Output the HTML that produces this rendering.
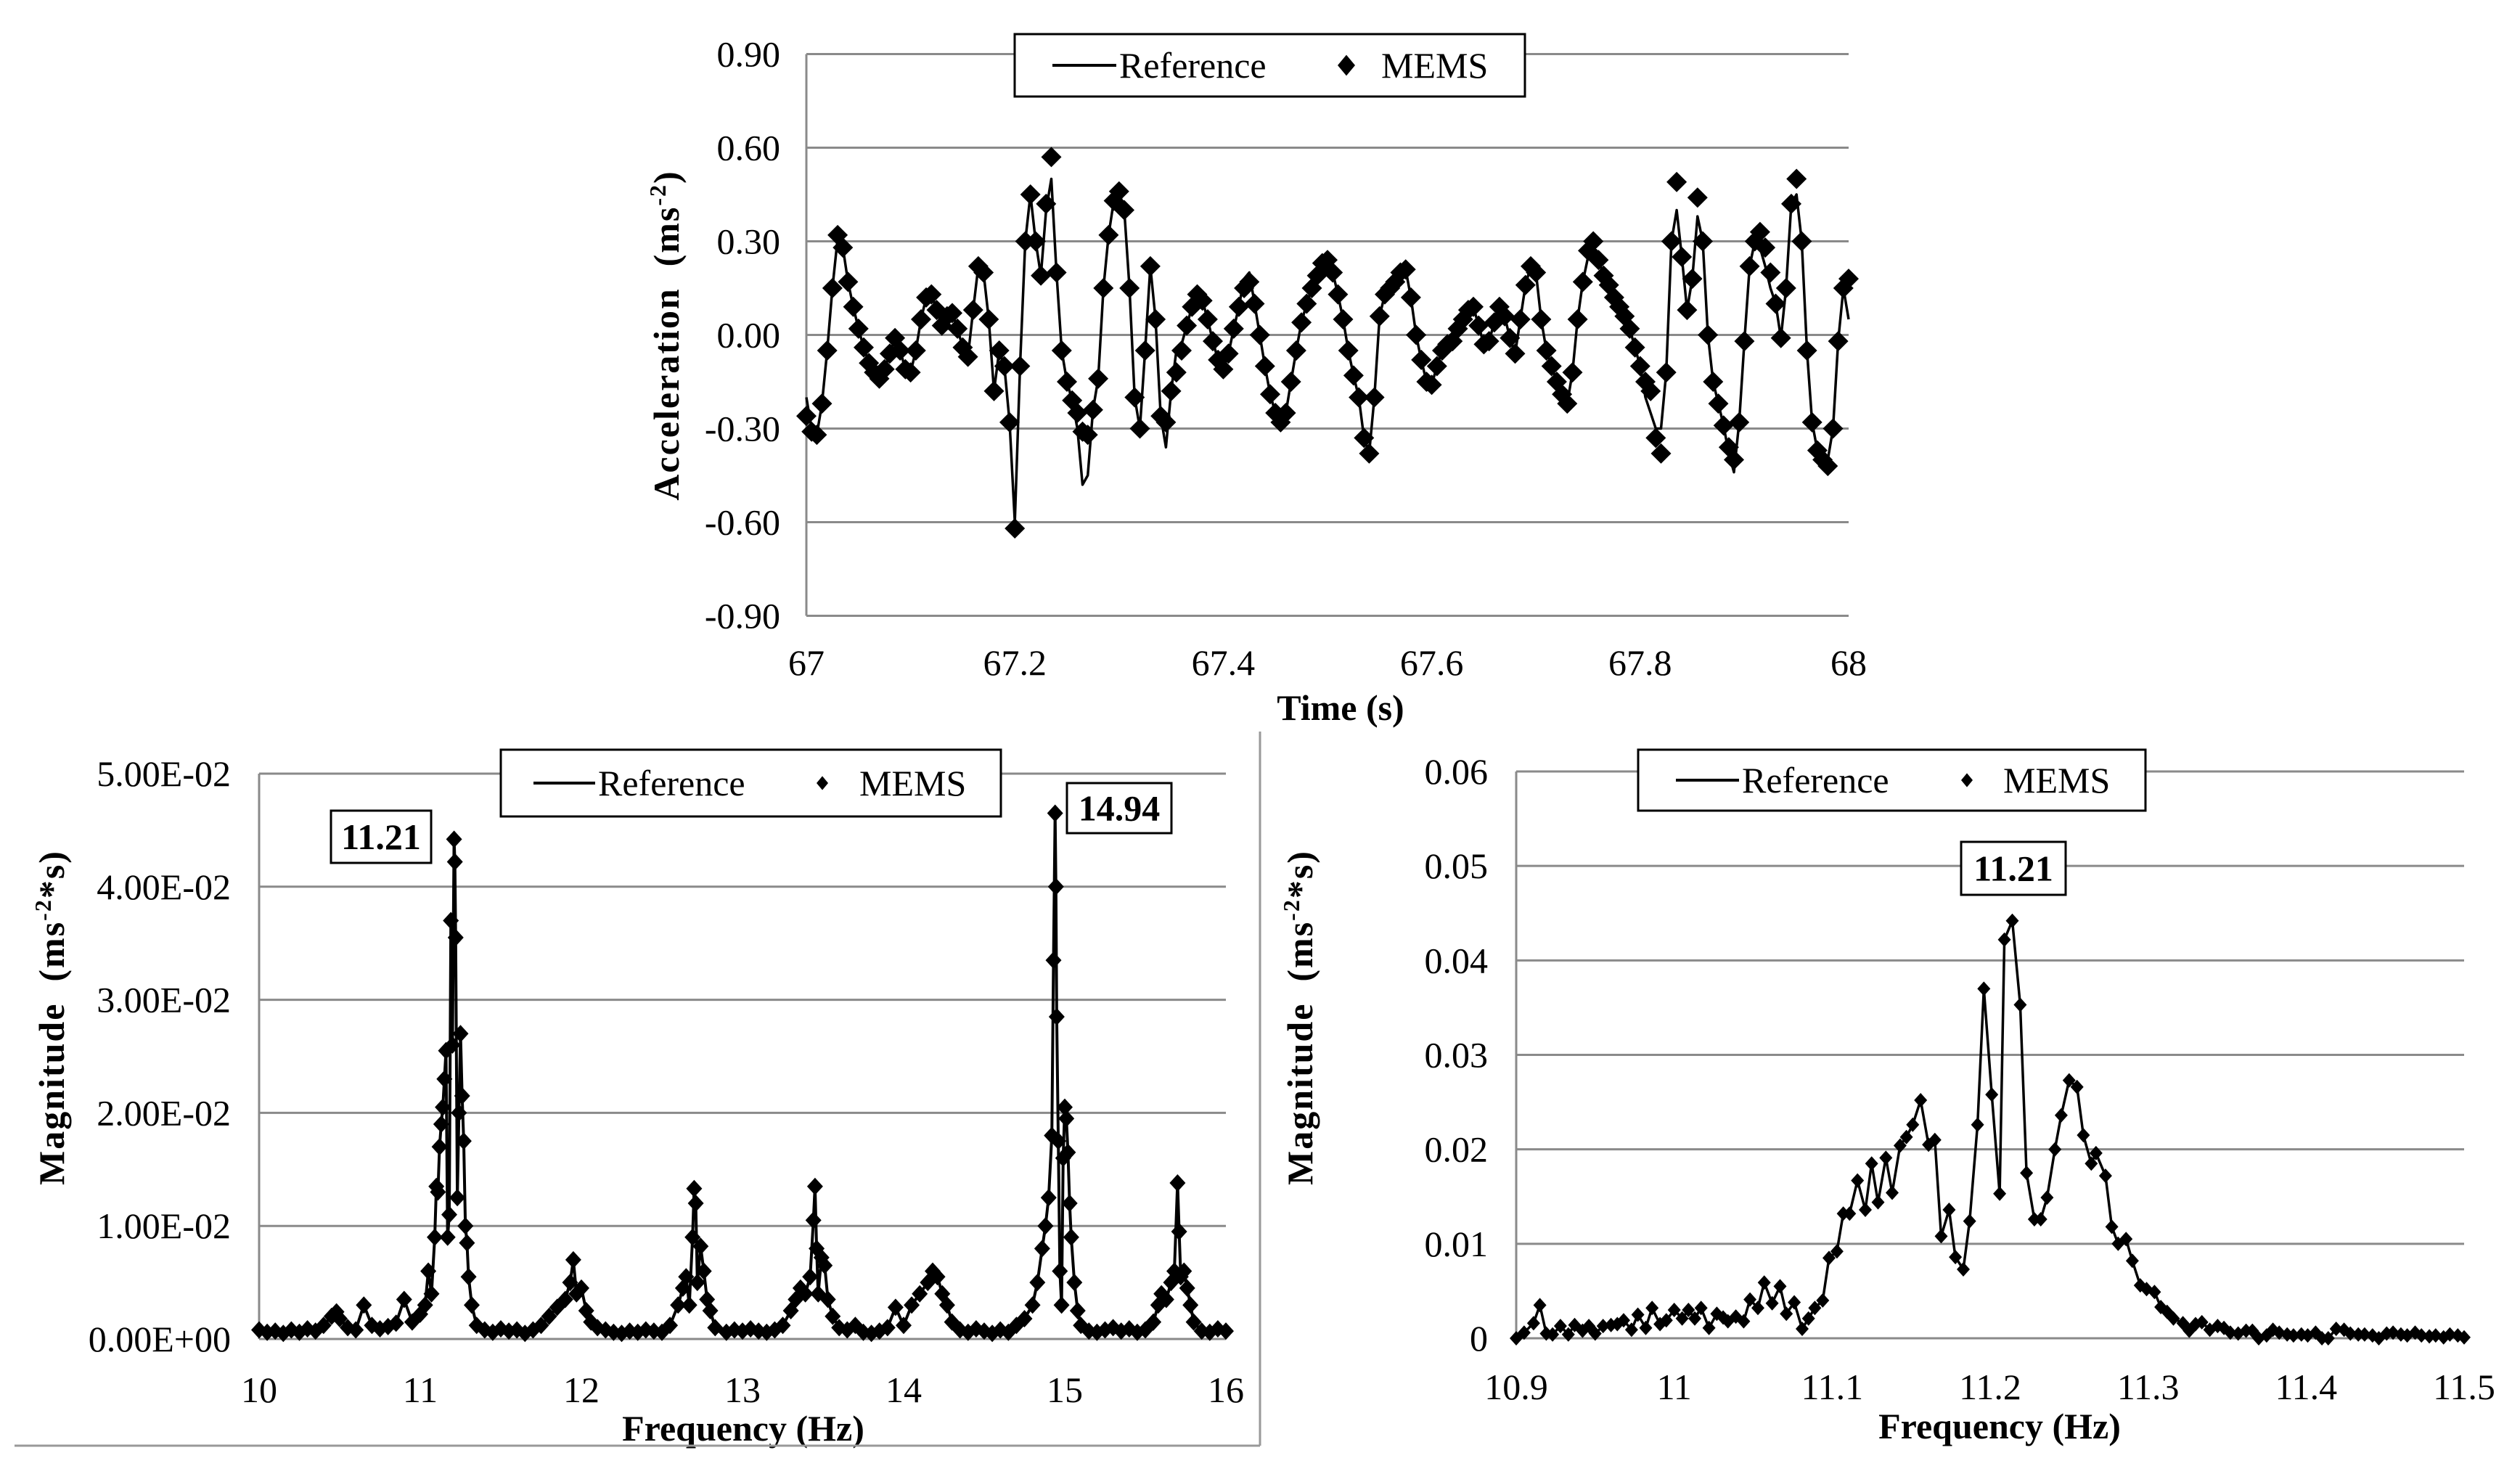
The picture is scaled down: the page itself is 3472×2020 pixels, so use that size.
<!DOCTYPE html>
<html><head><meta charset="utf-8">
<style>
html,body{margin:0;padding:0;background:#fff;}
svg{display:block;font-family:"Liberation Serif",serif;}
</style></head>
<body>
<svg id="fig" width="3472" height="2020" viewBox="0 0 3472 2020" xmlns="http://www.w3.org/2000/svg">
<rect width="3472" height="2020" fill="#fff"/>
<g id="top"></g>
<g id="bl"></g>
<g id="br"></g>
<line x1="20" y1="1992" x2="1736" y2="1992" stroke="#999" stroke-width="3"/>
<line x1="1736" y1="1008" x2="1736" y2="1992" stroke="#999" stroke-width="3"/>
</svg>
<script>
// ---------- Top chart data ----------
const topStart = 67.0;
const topStep = 0.005;
const memsAccel = [-0.26,-0.31,-0.32,-0.22,-0.05,0.15,0.32,0.28,0.17,0.09,0.02,-0.04,-0.09,-0.12,-0.14,-0.11,-0.06,-0.01,-0.05,-0.11,
-0.12,-0.05,0.05,0.12,0.13,0.08,0.03,0.06,0.07,0.02,-0.04,-0.07,0.08,0.22,0.20,0.05,-0.18,-0.05,-0.10,-0.28,
-0.62,-0.10,0.30,0.45,0.30,0.19,0.42,0.57,0.20,-0.05,-0.15,-0.21,-0.25,-0.31,-0.32,-0.24,-0.14,0.15,0.32,0.43,
0.46,0.40,0.15,-0.20,-0.30,-0.05,0.22,0.05,-0.26,-0.28,-0.18,-0.12,-0.05,0.03,0.09,0.13,0.11,0.05,-0.02,-0.08,
-0.11,-0.06,0.02,0.09,0.15,0.17,0.10,0.00,-0.10,-0.19,-0.25,-0.28,-0.25,-0.15,-0.05,0.04,0.10,0.15,0.19,0.23,
0.24,0.20,0.13,0.05,-0.05,-0.13,-0.20,-0.33,-0.38,-0.20,0.06,0.13,0.15,0.17,0.20,0.21,0.12,0.00,-0.08,-0.15,
-0.16,-0.10,-0.05,-0.03,-0.02,0.02,0.05,0.08,0.09,0.03,-0.03,-0.02,0.04,0.09,0.06,-0.01,-0.06,0.05,0.16,0.22,
0.20,0.05,-0.05,-0.10,-0.15,-0.19,-0.22,-0.12,0.05,0.17,0.27,0.30,0.24,0.19,0.16,0.12,0.09,0.06,0.02,-0.04,
-0.10,-0.15,-0.18,-0.33,-0.38,-0.12,0.30,0.49,0.25,0.08,0.18,0.44,0.30,0.00,-0.15,-0.22,-0.29,-0.36,-0.40,-0.28,
-0.02,0.22,0.30,0.33,0.28,0.20,0.10,-0.01,0.15,0.42,0.50,0.30,-0.05,-0.28,-0.37,-0.40,-0.42,-0.30,-0.02,0.15,0.18];
const refAccel = [-0.20,-0.30,-0.32,-0.22,-0.05,0.15,0.31,0.28,0.17,0.09,0.02,-0.04,-0.09,-0.12,-0.14,-0.11,-0.06,-0.01,-0.05,-0.11,
-0.12,-0.05,0.05,0.12,0.13,0.08,0.03,0.06,0.07,0.02,-0.04,-0.07,0.08,0.22,0.20,0.05,-0.18,-0.05,-0.10,-0.28,
-0.60,-0.10,0.30,0.45,0.30,0.19,0.40,0.50,0.20,-0.05,-0.15,-0.21,-0.30,-0.48,-0.45,-0.24,-0.14,0.15,0.32,0.43,
0.46,0.40,0.15,-0.20,-0.30,-0.05,0.22,0.05,-0.26,-0.36,-0.18,-0.05,-0.03,0.03,0.09,0.13,0.11,0.05,-0.02,-0.08,
-0.11,-0.06,0.02,0.09,0.18,0.20,0.10,0.00,-0.10,-0.19,-0.25,-0.28,-0.25,-0.15,-0.05,0.04,0.10,0.15,0.19,0.23,
0.24,0.20,0.13,0.05,-0.05,-0.13,-0.20,-0.33,-0.38,-0.20,0.06,0.13,0.15,0.17,0.20,0.21,0.12,0.00,-0.08,-0.15,
-0.16,-0.10,-0.05,-0.03,-0.02,0.02,0.05,0.08,0.09,0.03,-0.03,-0.02,0.04,0.11,0.06,-0.01,-0.06,0.05,0.16,0.22,
0.20,0.05,-0.05,-0.10,-0.15,-0.19,-0.22,-0.12,0.05,0.17,0.25,0.28,0.24,0.19,0.16,0.12,0.09,0.06,0.02,-0.04,
-0.10,-0.20,-0.25,-0.30,-0.30,-0.12,0.30,0.40,0.25,0.08,0.18,0.38,0.30,0.00,-0.15,-0.22,-0.29,-0.38,-0.44,-0.28,
-0.02,0.22,0.30,0.28,0.22,0.15,0.10,-0.01,0.15,0.42,0.45,0.30,-0.05,-0.28,-0.37,-0.40,-0.40,-0.30,-0.02,0.15,0.05];
const topYTicks = [0.9,0.6,0.3,0,-0.3,-0.6,-0.9];
const topYLabels = ["0.90","0.60","0.30","0.00","-0.30","-0.60","-0.90"];
const topXTicks = [67,67.2,67.4,67.6,67.8,68];
const topXLabels = ["67","67.2","67.4","67.6","67.8","68"];

// ---------- Bottom-left data ----------
const blFreq = [10.00,10.05,10.10,10.15,10.20,10.25,10.30,10.35,10.40,10.45,10.48,10.50,10.55,10.60,10.65,10.70,10.75,10.80,10.85,10.90,10.95,11.00,11.03,11.05,11.07,11.09,11.10,11.11,11.12,11.13,11.14,11.15,11.16,11.17,11.18,11.19,11.20,11.21,11.215,11.22,11.23,11.24,11.25,11.26,11.27,11.28,11.29,11.30,11.32,11.35,11.40,11.45,11.50,11.55,11.60,11.65,11.70,11.75,11.80,11.85,11.90,11.93,11.95,11.97,12.00,12.03,12.06,12.10,12.15,12.20,12.25,12.30,12.35,12.40,12.45,12.50,12.55,12.60,12.63,12.65,12.67,12.69,12.70,12.71,12.72,12.74,12.76,12.78,12.80,12.83,12.90,12.95,13.00,13.05,13.10,13.15,13.20,13.25,13.30,13.33,13.36,13.39,13.42,13.44,13.45,13.46,13.47,13.49,13.51,13.53,13.56,13.60,13.65,13.70,13.75,13.80,13.85,13.90,13.95,14.00,14.05,14.10,14.15,14.18,14.21,14.24,14.27,14.30,14.35,14.40,14.45,14.50,14.55,14.60,14.65,14.70,14.75,14.80,14.83,14.86,14.88,14.90,14.92,14.93,14.94,14.945,14.95,14.96,14.97,14.98,14.99,15.00,15.01,15.02,15.03,15.04,15.06,15.08,15.10,15.15,15.20,15.25,15.30,15.35,15.40,15.45,15.50,15.55,15.58,15.60,15.63,15.66,15.68,15.70,15.71,15.72,15.74,15.76,15.78,15.80,15.85,15.90,15.95,16.00];
const blMag = [.0008,.0006,.0007,.0005,.0008,.0006,.0009,.0007,.0012,.0020,.0024,.0018,.0010,.0008,.0030,.0012,.0009,.0011,.0014,.0035,.0015,.0022,.0030,.0060,.0040,.0090,.0135,.0130,.0170,.0190,.0205,.0230,.0255,.0090,.0110,.0370,.0260,.0442,.0422,.0355,.0125,.0200,.0270,.0215,.0175,.0100,.0085,.0055,.0030,.0012,.0008,.0006,.0009,.0007,.0008,.0005,.0008,.0012,.0020,.0028,.0035,.0050,.0070,.0040,.0045,.0025,.0015,.0010,.0008,.0006,.0005,.0007,.0006,.0008,.0007,.0006,.0012,.0030,.0045,.0055,.0030,.0090,.0133,.0120,.0050,.0082,.0060,.0035,.0025,.0010,.0006,.0008,.0007,.0009,.0007,.0006,.0008,.0012,.0025,.0035,.0045,.0040,.0055,.0105,.0135,.0080,.0040,.0072,.0065,.0035,.0020,.0010,.0008,.0012,.0006,.0005,.0007,.0010,.0028,.0012,.0030,.0040,.0050,.0060,.0055,.0040,.0030,.0015,.0008,.0006,.0009,.0007,.0005,.0008,.0006,.0012,.0018,.0030,.0050,.0080,.0100,.0125,.0180,.0335,.0465,.0400,.0285,.0175,.0060,.0030,.0160,.0205,.0195,.0165,.0120,.0090,.0050,.0025,.0012,.0007,.0006,.0008,.0010,.0007,.0009,.0006,.0008,.0015,.0030,.0040,.0035,.0050,.0060,.0138,.0095,.0055,.0060,.0045,.0030,.0015,.0007,.0006,.0009,.0007];
const blYTicks = [0,0.01,0.02,0.03,0.04,0.05];
const blYLabels = ["0.00E+00","1.00E-02","2.00E-02","3.00E-02","4.00E-02","5.00E-02"];
const blXTicks = [10,11,12,13,14,15,16];
const blXLabels = ["10","11","12","13","14","15","16"];

// ---------- Bottom-right data ----------
const brFreq = [10.900,10.905,10.911,10.915,10.919,10.923,10.928,10.933,10.937,10.942,10.946,10.950,10.955,10.960,10.964,10.968,10.973,10.977,10.982,10.986,10.991,10.995,11.000,11.005,11.009,11.013,11.017,11.022,11.027,11.031,11.034,11.039,11.044,11.048,11.053,11.057,11.062,11.067,11.071,11.076,11.081,11.085,11.089,11.094,11.098,11.103,11.107,11.111,11.116,11.121,11.125,11.129,11.134,11.138,11.143,11.147,11.151,11.156,11.161,11.165,11.169,11.174,11.178,11.183,11.187,11.192,11.196,11.201,11.206,11.209,11.214,11.219,11.223,11.228,11.232,11.236,11.241,11.245,11.250,11.255,11.259,11.264,11.267,11.273,11.277,11.281,11.286,11.290,11.295,11.299,11.304,11.308,11.312,11.316,11.322,11.326,11.330,11.334,11.339,11.344,11.348,11.352,11.357,11.362,11.366,11.370,11.375,11.379,11.383,11.388,11.392,11.397,11.401,11.406,11.410,11.414,11.419,11.424,11.428,11.433,11.437,11.442,11.446,11.451,11.455,11.460,11.464,11.469,11.473,11.478,11.482,11.487,11.491,11.496,11.500];
const brMag = [.0000,.0006,.0016,.0035,.0005,.0004,.0013,.0004,.0014,.0008,.0013,.0005,.0013,.0014,.0015,.0019,.0009,.0025,.0011,.0032,.0015,.0019,.0030,.0021,.0030,.0021,.0032,.0011,.0026,.0022,.0018,.0023,.0018,.0041,.0032,.0059,.0037,.0055,.0026,.0038,.0010,.0021,.0032,.0040,.0085,.0092,.0132,.0132,.0167,.0136,.0185,.0144,.0191,.0154,.0204,.0213,.0226,.0252,.0205,.0210,.0108,.0136,.0086,.0073,.0124,.0226,.0370,.0258,.0153,.0422,.0442,.0353,.0175,.0126,.0126,.0149,.0200,.0236,.0273,.0266,.0215,.0185,.0196,.0172,.0118,.0100,.0105,.0082,.0056,.0052,.0049,.0033,.0028,.0021,.0016,.0008,.0015,.0017,.0009,.0013,.0011,.0006,.0005,.0008,.0008,.0000,.0003,.0009,.0006,.0004,.0003,.0004,.0003,.0006,.0000,.0000,.0010,.0009,.0005,.0004,.0004,.0003,.0000,.0005,.0006,.0004,.0003,.0006,.0003,.0002,.0003,.0001,.0004,.0003,.0001];
const brYTicks = [0,0.01,0.02,0.03,0.04,0.05,0.06];
const brYLabels = ["0","0.01","0.02","0.03","0.04","0.05","0.06"];
const brXTicks = [10.9,11,11.1,11.2,11.3,11.4,11.5];
const brXLabels = ["10.9","11","11.1","11.2","11.3","11.4","11.5"];

const NS = "http://www.w3.org/2000/svg";
function mk(parent, tag, attrs, text){
  const e = document.createElementNS(NS, tag);
  for (const k in attrs) e.setAttribute(k, attrs[k]);
  if (text !== undefined) e.textContent = text;
  parent.appendChild(e);
  return e;
}
function diamond(x,y,hw,hh){
  x=+x; y=+y;
  return "M"+x.toFixed(1)+","+(y-hh).toFixed(1)+"L"+(x+hw).toFixed(1)+","+y.toFixed(1)+"L"+x.toFixed(1)+","+(y+hh).toFixed(1)+"L"+(x-hw).toFixed(1)+","+y.toFixed(1)+"Z";
}

function buildChart(g, cfg){
  const {x0,x1,y0,y1,xmin,xmax,ymin,ymax} = cfg;
  const X = v => x0 + (v-xmin)/(xmax-xmin)*(x1-x0);
  const Y = v => y0 - (v-ymin)/(ymax-ymin)*(y0-y1);
  cfg.yTicks.forEach((t,i)=>{
    const ln = mk(g,"line",{x1:x0,x2:x1,y1:Y(t),y2:Y(t),stroke:"#8a8a8a","stroke-width":3});
    
    
    const tx = mk(g,"text",{x:cfg.yLabelX,y:Y(t)+17,"text-anchor":"end","font-size":50,fill:"#000"},cfg.yLabels[i]);
    
    
  });
  const ax = mk(g,"line",{x1:x0,x2:x0,y1:y1,y2:y0,stroke:"#8a8a8a","stroke-width":3});
  
  
  cfg.xTicks.forEach((t,i)=>{
    const tx = mk(g,"text",{x:X(t),y:cfg.xLabelY,"text-anchor":"middle","font-size":50,fill:"#000"},cfg.xLabels[i]);
    
    
  });
  let d="";
  cfg.refX.forEach((v,i)=>{ d += (i?"L":"M")+X(v).toFixed(1)+","+Y(cfg.refY[i]).toFixed(1); });
  const p = mk(g,"path",{d:d,fill:"none",stroke:"#000","stroke-width":cfg.lw,"stroke-linejoin":"round"});
  
  
  let md="";
  cfg.memsX.forEach((v,i)=>{ md += diamond(X(v), Y(cfg.memsY[i]), cfg.mw, cfg.mh); });
  const m = mk(g,"path",{d:md,fill:"#000"});
  
  
  const xt = mk(g,"text",{x:cfg.xTitle[0],y:cfg.xTitle[1],"text-anchor":"middle","font-size":50,"font-weight":"bold"},cfg.xTitleText);
  
  
  const yt = mk(g,"text",{x:0,y:0,"text-anchor":"middle","font-size":50,"font-weight":"bold","letter-spacing":"2",transform:"translate("+cfg.yTitle[0]+","+cfg.yTitle[1]+") rotate(-90)"});
  
  
  yt.innerHTML = cfg.yTitleHTML;
  const L = cfg.legend;
  const lg = mk(g,"g",{});
  
  
  mk(lg,"rect",{x:L.x,y:L.y,width:L.w,height:L.h,fill:"#fff",stroke:"#000","stroke-width":3});
  const cy = L.y + L.h/2;
  const s = mk(lg,"line",{x1:L.lx1,x2:L.lx2,y1:cy,y2:cy,stroke:"#000","stroke-width":4});
  
  
  const t1 = mk(lg,"text",{x:L.lx2+4,y:cy+17,"font-size":50},"Reference");
  
  
  const dm = mk(lg,"path",{d:diamond(L.dx,cy,L.dsz,L.dsz*1.2),fill:"#000"});
  
  
  const t2 = mk(lg,"text",{x:L.mx,y:cy+17,"font-size":50},"MEMS");
  
  
  (cfg.notes||[]).forEach(n=>{
    const ng = mk(g,"g",{});
    
    
    mk(ng,"rect",{x:n.x,y:n.y,width:n.w,height:n.h,fill:"#fff",stroke:"#000","stroke-width":3});
    mk(ng,"text",{x:n.x+n.w/2,y:n.y+n.h/2+17,"text-anchor":"middle","font-size":50,"font-weight":"bold"},n.t);
  });
}

const topTimes = memsAccel.map((_,i)=>topStart+i*topStep);
buildChart(document.getElementById("top"),{
  x0:1111,x1:2547,y0:848.5,y1:74.5,xmin:67,xmax:68,ymin:-0.9,ymax:0.9,
  yTicks:topYTicks,yLabels:topYLabels,yLabelX:1075,xTicks:topXTicks,xLabels:topXLabels,xLabelY:930,
  refX:topTimes,refY:refAccel,memsX:topTimes,memsY:memsAccel,lw:3.5,mw:14,mh:14,
  xTitle:[1847,992],xTitleText:"Time (s)",yTitle:[935,462],
  yTitleHTML:'Acceleration&#160;&#160;(ms<tspan baseline-shift="super" font-size="32">-2</tspan>)',
  legend:{x:1398,y:47,w:703,h:86,lx1:1450,lx2:1538,dx:1855,dsz:12,mx:1903}
});
buildChart(document.getElementById("bl"),{
  x0:357,x1:1689,y0:1845,y1:1066,xmin:10,xmax:16,ymin:0,ymax:0.05,
  yTicks:blYTicks,yLabels:blYLabels,yLabelX:318,xTicks:blXTicks,xLabels:blXLabels,xLabelY:1932,
  refX:blFreq,refY:blMag,memsX:blFreq,memsY:blMag,lw:4,mw:11,mh:12,
  xTitle:[1024,1985],xTitleText:"Frequency (Hz)",yTitle:[88,1402],
  yTitleHTML:'Magnitude&#160;&#160;(ms<tspan baseline-shift="super" font-size="32">-2</tspan>*s)',
  legend:{x:690,y:1033,w:689,h:92,lx1:735,lx2:820,dx:1133,dsz:8,mx:1184},
  notes:[{x:456,y:1117,w:138,h:72,t:"11.21"},{x:1470,y:1079,w:144,h:69,t:"14.94"}]
});
buildChart(document.getElementById("br"),{
  x0:2089,x1:3395,y0:1844,y1:1063,xmin:10.9,xmax:11.5,ymin:0,ymax:0.06,
  yTicks:brYTicks,yLabels:brYLabels,yLabelX:2050,xTicks:brXTicks,xLabels:brXLabels,xLabelY:1928,
  refX:brFreq,refY:brMag,memsX:brFreq,memsY:brMag,lw:3.5,mw:9,mh:10,
  xTitle:[2755,1982],xTitleText:"Frequency (Hz)",yTitle:[1808,1402],
  yTitleHTML:'Magnitude&#160;&#160;(ms<tspan baseline-shift="super" font-size="32">-2</tspan>*s)',
  legend:{x:2257,y:1033,w:699,h:84,lx1:2309,lx2:2396,dx:2710,dsz:8,mx:2760},
  notes:[{x:2702,y:1160,w:144,h:73,t:"11.21"}]
});
</script>
</body></html>
